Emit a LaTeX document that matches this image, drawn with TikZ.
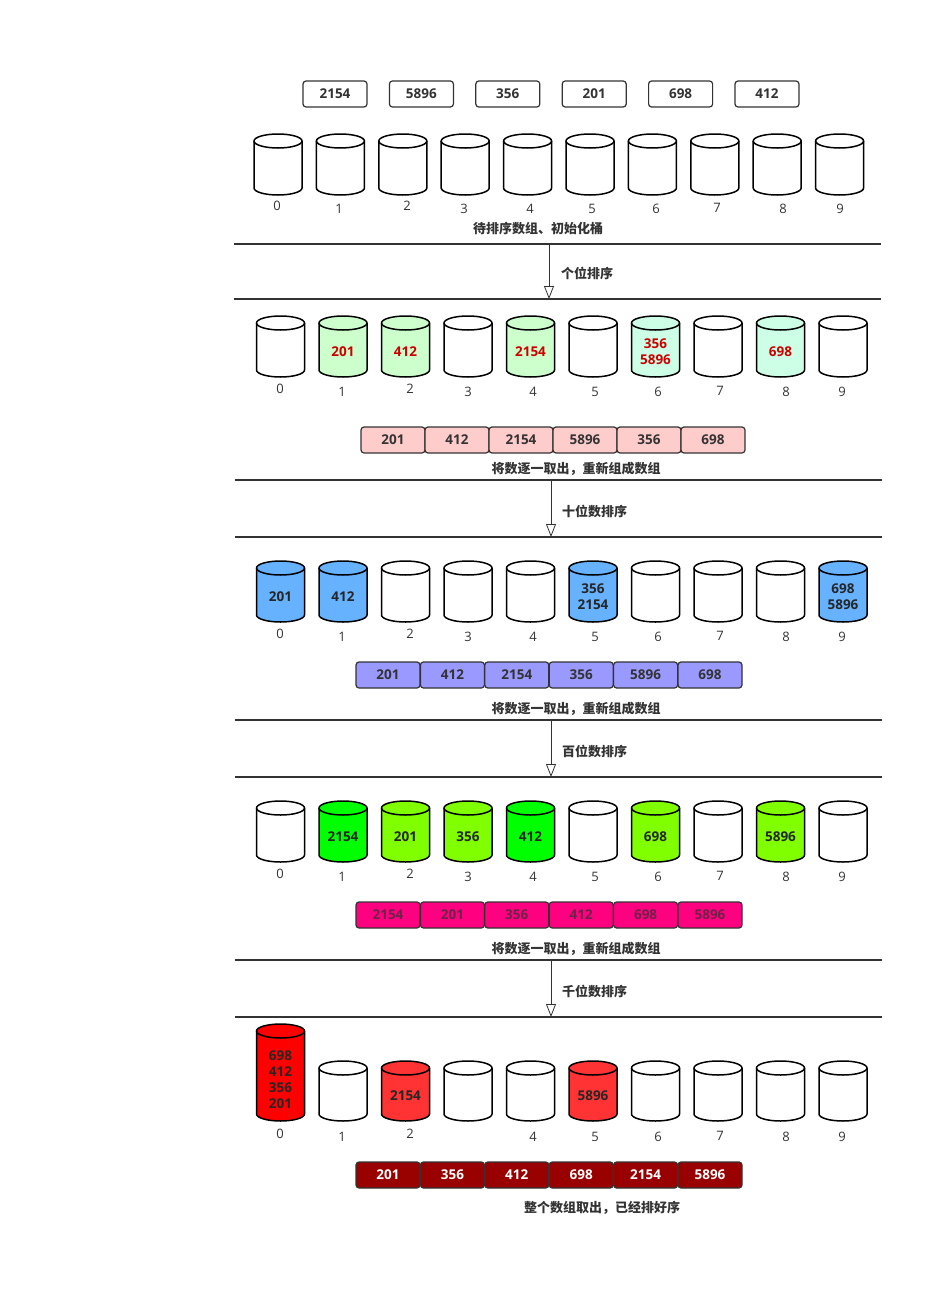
\documentclass[tikz,border=0pt]{standalone}
\usepackage{fontspec}
\newfontfamily\cjk{Noto Sans CJK SC}
\newfontfamily\numf{Open Sans}
\usetikzlibrary{arrows.meta}
\definecolor{ink}{HTML}{333333}
\definecolor{gA}{HTML}{CCFFCC}
\definecolor{gB}{HTML}{CCFFE6}
\definecolor{blu}{HTML}{66B2FF}
\definecolor{lg}{HTML}{00FF00}
\definecolor{ch}{HTML}{80FF00}
\definecolor{rA}{HTML}{FF0000}
\definecolor{rB}{HTML}{FF3333}
\definecolor{pk}{HTML}{FFCCCC}
\definecolor{pu}{HTML}{9999FF}
\definecolor{mg}{HTML}{FF0080}
\definecolor{mgt}{HTML}{6B2448}
\definecolor{dr}{HTML}{990000}
\definecolor{redt}{HTML}{CC0000}
\newcommand\cyl[8]{%
  \begin{scope}[shift={(#2,#3)}]
    \filldraw[cylst, fill=#5] (-24,7) -- (-24,#4-7)
      arc[start angle=180,end angle=0,x radius=24,y radius=7] -- (24,7)
      arc[start angle=0,end angle=-180,x radius=24,y radius=7] -- cycle;
    \draw[cylst] (-24,7) arc[start angle=180,end angle=0,x radius=24,y radius=7];
    \node[cyltext, text=#6] (#1) at (0,{(#4+7)/2+#8}) {#7};
  \end{scope}}
\begin{document}
\begin{tikzpicture}[x=1pt,y=-1pt,
  numfont/.style={font=\numf\bfseries\fontsize{13.5}{16}\selectfont},
  topbox/.style={draw=ink, line width=1.2pt, rounded corners=3pt, minimum width=64pt, minimum height=26pt, inner sep=0pt, numfont, text=ink, fill=white},
  arrbox/.style={topbox, fill=#1},
  cylst/.style={draw=black, line width=1.5pt},
  cyltext/.style={numfont, align=center, inner sep=0pt},
  idx/.style={font=\numf\fontsize{13}{15}\selectfont, text=ink, inner sep=0pt},
  captext/.style={font=\cjk\bfseries\fontsize{13}{15}\selectfont, text=ink, inner sep=0pt},
  sepline/.style={draw=ink, line width=1.2pt},
  flow/.style={draw=ink, line width=0.8pt, -{Triangle[open,width=10pt,length=13pt]}}]
\useasboundingbox (0,0) rectangle (945,1290);

% ---- top boxes
\foreach \t [count=\k from 0] in {2154,5896,356,201,698,412}
  \node[topbox] (in\k) at ({335+86.4*\k},94) {\t};

% ---- section 1 cylinders
\foreach \i in {0,...,9}
  \cyl{a\i}{278+62.4*\i}{134}{61}{white}{ink}{}{0};
\foreach \x/\d/\dy in {277/0/-3,339/1/0,407/2/-3,464/3/0,530/4/0,592/5/0,656/6/0,717/7/-1,783/8/0,840/9/0}
  \node[idx] (al\d) at (\x,209+\dy) {\d};
\node[captext] (cap1) at (538,229) {待排序数组、初始化桶};

% separators and arrows
\foreach \n/\y/\xa/\xb in {1/244/234/881,2/299/234/881,3/480/235/882,4/537/235/882,5/720/235/882,6/777/235/882,7/960/235/882,8/1017/235/882}{
  \coordinate (L\n a) at (\xa,\y);
  \coordinate (L\n b) at (\xb,\y);
  \draw[sepline] (L\n a) -- (L\n b);
}
\coordinate (f1a) at (549,244); \coordinate (f1b) at (549,299);
\coordinate (f2a) at (551,480); \coordinate (f2b) at (551,537);
\coordinate (f3a) at (551,720); \coordinate (f3b) at (551,777);
\coordinate (f4a) at (551,960); \coordinate (f4b) at (551,1017);
\draw[flow] (f1a) -- (f1b);
\draw[flow] (f2a) -- (f2b);
\draw[flow] (f3a) -- (f3b);
\draw[flow] (f4a) -- (f4b);
\node[captext, anchor=west] (st1) at (561,273) {个位排序};
\node[captext, anchor=west] (st2) at (562,511) {十位数排序};
\node[captext, anchor=west] (st3) at (562,751) {百位数排序};
\node[captext, anchor=west] (st4) at (562,991) {千位数排序};

% ---- section 2
\foreach \i/\f/\t in {0/white/,1/gA/201,2/gA/412,3/white/,4/gA/2154,5/white/,6/gB/{356\\5896},7/white/,8/gB/698,9/white/}
  \cyl{b\i}{280.5+62.5*\i}{316}{61}{\f}{redt}{\t}{1.5};
\foreach \x/\d/\dy in {280/0/-3,342/1/0,410/2/-3,468/3/0,533/4/0,595/5/0,658/6/0,720/7/-1,786/8/0,842/9/0}
  \node[idx] (bl\d) at (\x,392+\dy) {\d};
\foreach \t [count=\k from 0] in {201,412,2154,5896,356,698}
  \node[arrbox=pk] (ba\k) at ({393+64*\k},440) {\t};
\node[captext] (cap2) at (576,469) {将数逐一取出，重新组成数组};

% ---- section 3
\foreach \i/\f/\t in {0/blu/201,1/blu/412,2/white/,3/white/,4/white/,5/blu/{356\\2154},6/white/,7/white/,8/white/,9/blu/{698\\5896}}
  \cyl{c\i}{280.5+62.5*\i}{561}{61}{\f}{black!85}{\t}{1.5};
\foreach \x/\d/\dy in {280/0/-3,342/1/0,410/2/-3,468/3/0,533/4/0,595/5/0,658/6/0,720/7/-1,786/8/0,842/9/0}
  \node[idx] (cl\d) at (\x,637+\dy) {\d};
\foreach \t [count=\k from 0] in {201,412,2154,356,5896,698}
  \node[arrbox=pu] (ca\k) at ({388+64.4*\k},675) {\t};
\node[captext] (cap3) at (576,709) {将数逐一取出，重新组成数组};

% ---- section 4
\foreach \i/\f/\t in {0/white/,1/lg/2154,2/ch/201,3/ch/356,4/lg/412,5/white/,6/ch/698,7/white/,8/ch/5896,9/white/}
  \cyl{d\i}{280.5+62.5*\i}{801}{61}{\f}{black!85}{\t}{1.5};
\foreach \x/\d/\dy in {280/0/-3,342/1/0,410/2/-3,468/3/0,533/4/0,595/5/0,658/6/0,720/7/-1,786/8/0,842/9/0}
  \node[idx] (dl\d) at (\x,877+\dy) {\d};
\foreach \t [count=\k from 0] in {2154,201,356,412,698,5896}
  \node[arrbox=mg, text=mgt] (da\k) at ({388+64.4*\k},915) {\t};
\node[captext] (cap4) at (576,949) {将数逐一取出，重新组成数组};

% ---- section 5
\cyl{e0}{280.5}{1024}{97}{rA}{black!85}{698\\412\\356\\201}{4};
\foreach \i/\f/\t in {1/white/,2/rB/2154,3/white/,4/white/,5/rB/5896,6/white/,7/white/,8/white/,9/white/}
  \cyl{e\i}{280.5+62.5*\i}{1061}{60}{\f}{black!85}{\t}{1.5};
\foreach \x/\d/\dy in {280/0/-3,342/1/0,410/2/-3,533/4/0,595/5/0,658/6/0,720/7/-1,786/8/0,842/9/0}
  \node[idx] (el\d) at (\x,1137+\dy) {\d};
\foreach \t [count=\k from 0] in {201,356,412,698,2154,5896}
  \node[arrbox=dr, text=white] (ea\k) at ({388+64.4*\k},1175) {\t};
\node[captext] (cap5) at (602,1208) {整个数组取出，已经排好序};
\end{tikzpicture}
\end{document}
